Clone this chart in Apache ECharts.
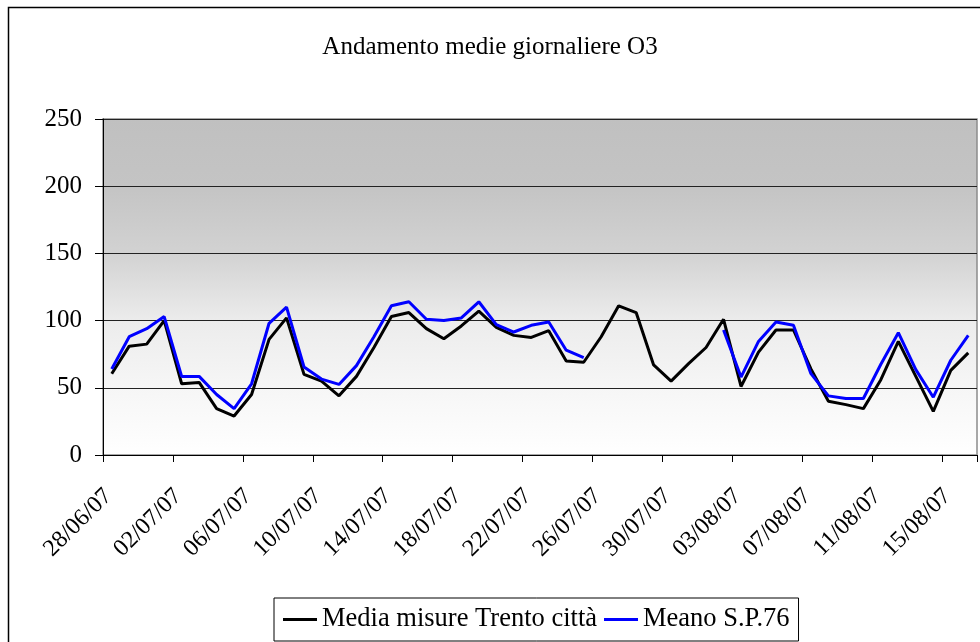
<!DOCTYPE html>
<html>
<head>
<meta charset="utf-8">
<title>Andamento medie giornaliere O3</title>
<script src="https://cdn.jsdelivr.net/npm/echarts@6/dist/echarts.min.js"></script>
<style>
  html, body { margin: 0; padding: 0; background: #fff; }
  #chart { width: 980px; height: 642px; }
</style>
</head>
<body>
<div id="chart"></div>
<script>
// giorni (categorie asse x)
const days = [
  '28/06/07', '29/06/07', '30/06/07', '01/07/07', '02/07/07', '03/07/07', '04/07/07', '05/07/07',
  '06/07/07', '07/07/07', '08/07/07', '09/07/07', '10/07/07', '11/07/07', '12/07/07', '13/07/07',
  '14/07/07', '15/07/07', '16/07/07', '17/07/07', '18/07/07', '19/07/07', '20/07/07', '21/07/07',
  '22/07/07', '23/07/07', '24/07/07', '25/07/07', '26/07/07', '27/07/07', '28/07/07', '29/07/07',
  '30/07/07', '31/07/07', '01/08/07', '02/08/07', '03/08/07', '04/08/07', '05/08/07', '06/08/07',
  '07/08/07', '08/08/07', '09/08/07', '10/08/07', '11/08/07', '12/08/07', '13/08/07', '14/08/07',
  '15/08/07', '16/08/07'
];

const trentoCitta = [
  60.5, 81, 82.5, 100, 53, 54, 34.5, 29, 45, 86,
  102, 60, 55, 44, 58.5, 80, 103, 106, 94, 86.5,
  96, 107, 95, 89, 87.5, 92.5, 70, 69, 88, 111,
  106, 67, 55, 68, 80, 101, 51, 76.5, 93, 93,
  64, 40, 37.5, 34.5, 56, 84.5, 58.5, 32.5, 63, 76
];

// dati mancanti = null
const meanoSP76 = [
  64, 88, 94, 103, 58.5, 58.5, 45, 34.5, 53, 98,
  110, 65.5, 56.5, 52.5, 66.5, 88, 111, 114, 101, 100,
  102, 114, 97, 91.5, 96.5, 99, 78, 72.5, null, null,
  null, null, null, null, null, 93, 58, 84.5, 99, 96.5,
  60.5, 44, 42, 42, 67.5, 91, 63.5, 43, 70.5, 89
];

const yTicks = [0, 50, 100, 150, 200, 250];

const serif = '"Liberation Serif", "Times New Roman", serif';

var myChart = echarts.init(document.getElementById('chart'));

var option = {
  animation: false,
  backgroundColor: '#fff',
  textStyle: { fontFamily: serif, color: '#000' },
  title: {
    text: 'Andamento medie giornaliere O3',
    left: 'center',
    top: 30,
    textStyle: { fontFamily: serif, fontSize: 25, fontWeight: 'normal', color: '#000' }
  },
  graphic: [
    {
      // cornice esterna del grafico
      type: 'rect',
      shape: { x: 8.5, y: 7.5, width: 1100, height: 800 },
      style: { fill: 'none', stroke: '#000', lineWidth: 1.5 },
      silent: true
    }
  ],
  grid: {
    left: 103,
    right: 3,
    top: 119,
    bottom: 187,
    show: true,
    borderColor: '#8c8c8c',
    borderWidth: 1.5,
    backgroundColor: new echarts.graphic.LinearGradient(0, 0, 0, 1, [
      { offset: 0, color: '#c0c0c0' },
      { offset: 0.2, color: '#c4c4c4' },
      { offset: 0.4, color: '#d2d2d2' },
      { offset: 0.6, color: '#ececec' },
      { offset: 0.8, color: '#f6f6f6' },
      { offset: 1, color: '#ffffff' }
    ])
  },
  legend: {
    left: 274,
    top: 598,
    padding: [8, 9, 8, 9],
    borderColor: '#000',
    borderWidth: 1,
    backgroundColor: '#fff',
    itemWidth: 34,
    itemHeight: 3,
    itemGap: 7,
    icon: 'rect',
    textStyle: { fontFamily: serif, fontSize: 26.5, color: '#000' },
    data: ['Media misure Trento città', 'Meano S.P.76']
  },
  xAxis: {
    type: 'category',
    data: days,
    boundaryGap: true,
    axisLine: { lineStyle: { color: '#000', width: 1 } },
    axisTick: { show: true, interval: 3, length: 7, lineStyle: { color: '#000' } },
    axisLabel: {
      interval: 3,
      rotate: 45,
      margin: 34,
      padding: [0, 5, 0, 0],
      fontFamily: serif,
      fontSize: 24,
      color: '#000'
    },
    splitLine: { show: false }
  },
  yAxis: {
    type: 'value',
    min: yTicks[0],
    max: yTicks[yTicks.length - 1],
    interval: 50,
    axisLine: { show: true, lineStyle: { color: '#000', width: 1 } },
    axisTick: { show: true, length: 8, lineStyle: { color: '#000' } },
    axisLabel: { margin: 21, fontFamily: serif, fontSize: 25, color: '#000' },
    splitLine: { show: true, lineStyle: { color: '#222', width: 1 } }
  },
  series: [
    {
      name: 'Media misure Trento città',
      type: 'line',
      data: trentoCitta,
      symbol: 'none',
      itemStyle: { color: '#000000' },
      lineStyle: { color: '#000000', width: 3 },
      z: 2
    },
    {
      name: 'Meano S.P.76',
      type: 'line',
      data: meanoSP76,
      connectNulls: false,
      symbol: 'none',
      itemStyle: { color: '#0000ff' },
      lineStyle: { color: '#0000ff', width: 3 },
      z: 3
    }
  ]
};

myChart.setOption(option);
</script>
</body>
</html>
